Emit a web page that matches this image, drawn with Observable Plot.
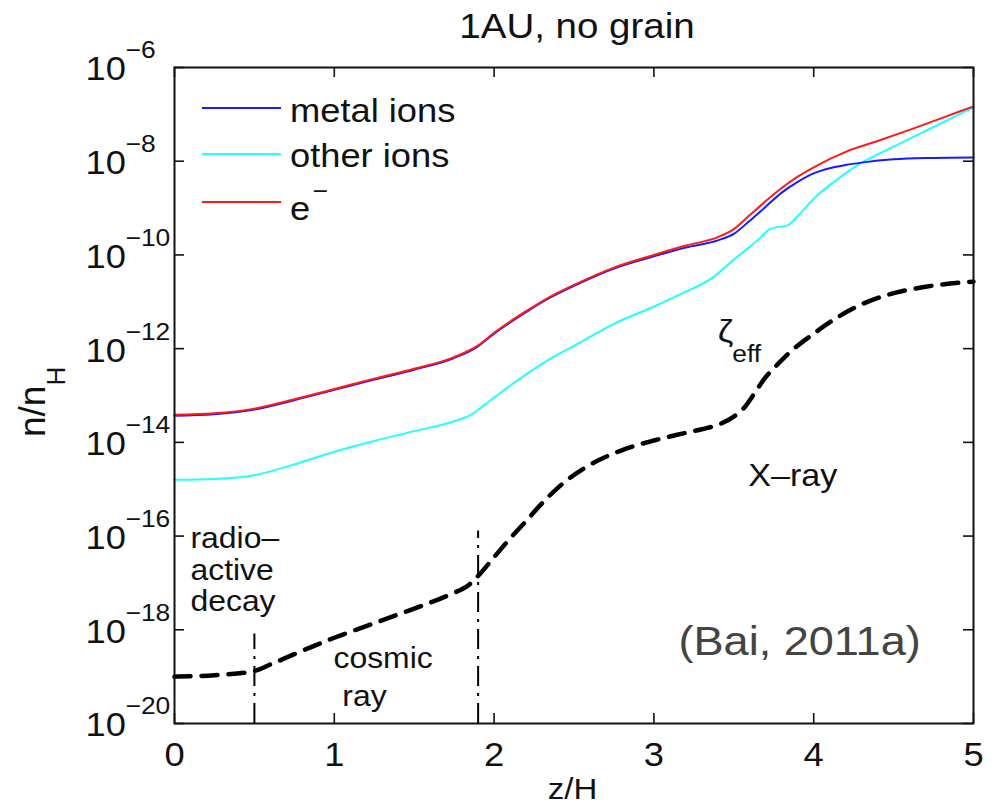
<!DOCTYPE html>
<html><head><meta charset="utf-8">
<script src="https://cdn.jsdelivr.net/npm/d3@7"></script>
<script src="https://cdn.jsdelivr.net/npm/@observablehq/plot@0.6"></script>
<style>html,body{margin:0;padding:0;background:#fff;overflow:hidden} svg{display:block}</style>
</head><body><div id="chart"></div>
<script>
// ---------- data (log10 of n/n_H) ----------
const zElectrons = [0, 0.25, 0.5, 0.75, 1.0, 1.25, 1.5, 1.75, 1.9, 2.0, 2.1, 2.2, 2.33, 2.5, 2.75, 3.0, 3.2, 3.4, 3.5, 3.6, 3.7, 3.8, 3.9, 4.0, 4.2, 4.4, 4.6, 4.8, 5.0];
const logElectrons = [-13.41, -13.38, -13.28, -13.08, -12.86, -12.64, -12.43, -12.18, -11.93, -11.66, -11.42, -11.20, -10.93, -10.64, -10.27, -10.00, -9.80, -9.62, -9.45, -9.15, -8.85, -8.57, -8.33, -8.13, -7.80, -7.57, -7.33, -7.08, -6.83];

const zMetal = [0, 0.25, 0.5, 0.75, 1.0, 1.25, 1.5, 1.75, 1.9, 2.0, 2.1, 2.2, 2.33, 2.5, 2.75, 3.0, 3.2, 3.4, 3.5, 3.6, 3.7, 3.8, 3.9, 4.0, 4.1, 4.2, 4.3, 4.5, 4.75, 5.0];
const logMetal = [-13.43, -13.40, -13.30, -13.10, -12.88, -12.66, -12.45, -12.20, -11.95, -11.68, -11.44, -11.22, -10.95, -10.66, -10.29, -10.03, -9.84, -9.69, -9.55, -9.27, -8.97, -8.67, -8.44, -8.26, -8.15, -8.08, -8.03, -7.96, -7.93, -7.92];

const zOther = [0, 0.25, 0.5, 0.75, 1.0, 1.25, 1.5, 1.75, 1.85, 1.94, 2.04, 2.2, 2.33, 2.5, 2.75, 3.0, 3.17, 3.37, 3.5, 3.58, 3.67, 3.72, 3.78, 3.83, 3.9, 4.0, 4.15, 4.29, 4.5, 4.75, 5.0];
const logOther = [-14.80, -14.78, -14.70, -14.47, -14.20, -13.97, -13.76, -13.55, -13.42, -13.20, -12.94, -12.55, -12.26, -11.94, -11.47, -11.10, -10.83, -10.48, -10.10, -9.88, -9.62, -9.46, -9.40, -9.38, -9.17, -8.80, -8.38, -8.05, -7.69, -7.27, -6.85];

const zZeta = [0, 0.25, 0.5, 0.6, 0.75, 1.0, 1.25, 1.41, 1.6, 1.73, 1.85, 1.9, 2.0, 2.1, 2.2, 2.3, 2.44, 2.6, 2.79, 3.0, 3.17, 3.3, 3.42, 3.5, 3.56, 3.63, 3.69, 3.77, 3.84, 4.0, 4.15, 4.31, 4.52, 4.7, 4.92, 5.0];
const logZeta = [-19.00, -18.97, -18.88, -18.74, -18.52, -18.17, -17.86, -17.66, -17.42, -17.24, -17.02, -16.85, -16.45, -16.05, -15.68, -15.30, -14.85, -14.48, -14.18, -13.96, -13.82, -13.72, -13.60, -13.45, -13.28, -12.95, -12.65, -12.35, -12.11, -11.68, -11.33, -11.04, -10.80, -10.68, -10.59, -10.57];

const boundaryZ = [0.5, 1.9];
const boundaryTopLog = [-18.09, -15.89];

const seriesNames = ["metal ions", "other ions", "e"];
const seriesColors = ["#1a1aff", "#22ffff", "#ff1a1a"];

const xTicks = [0, 1, 2, 3, 4, 5];
const yTickExponents = [-20, -18, -16, -14, -12, -10, -8, -6];

const titleText = "1AU, no grain";
const xLabel = "z/H";
const sourceText = "(Bai, 2011a)";

// ---------- build ----------
const rows = (zs, logs) => zs.map((z, i) => ({z, n: Math.pow(10, logs[i])}));
const electrons = rows(zElectrons, logElectrons);
const metal = rows(zMetal, logMetal);
const other = rows(zOther, logOther);
const zeta = rows(zZeta, logZeta);
const yTickValues = yTickExponents.map(e => Math.pow(10, e));
const yMin = yTickValues[0], yMax = yTickValues[yTickValues.length - 1];
const boundaries = boundaryZ.map((z, i) => ({z, lo: yMin, hi: Math.pow(10, boundaryTopLog[i])}));

const annotations = [
  {z: 0.10, n: Math.pow(10, -16.05), t: "radio–"},
  {z: 0.10, n: Math.pow(10, -16.73), t: "active"},
  {z: 0.10, n: Math.pow(10, -17.40), t: "decay"},
  {z: 0.995, n: Math.pow(10, -18.61), t: "cosmic"},
  {z: 1.05, n: Math.pow(10, -19.425), t: "ray"},
  {z: 3.59, n: Math.pow(10, -14.71), t: "X–ray"},
  {z: 3.40, n: Math.pow(10, -11.65), t: "ζ"}
];

const FONT = "'Liberation Sans', Arial, Helvetica, sans-serif";
const W = 993, H = 807, ML = 174, MR = 20, MT = 67, MB = 84;
const FW = W - ML - MR, FH = H - MT - MB, TICK = 10;
const INK = "#111";

const chart = Plot.plot({
  width: W, height: H,
  marginLeft: ML, marginRight: MR, marginTop: MT, marginBottom: MB,
  style: {fontFamily: FONT, background: "white", color: INK, overflow: "visible"},
  x: {domain: [0, 5]},
  y: {type: "log", domain: [yMin, yMax]},
  marks: [
    Plot.line(other, {x: "z", y: "n", stroke: seriesColors[1], strokeWidth: 2, curve: "monotone-x"}),
    Plot.line(metal, {x: "z", y: "n", stroke: seriesColors[0], strokeWidth: 2, curve: "monotone-x"}),
    Plot.line(electrons, {x: "z", y: "n", stroke: seriesColors[2], strokeWidth: 2, curve: "monotone-x"}),
    Plot.line(zeta, {x: "z", y: "n", stroke: "#000", strokeWidth: 4.5, strokeDasharray: "16,11", curve: "monotone-x"}),
    Plot.ruleX(boundaries, {x: "z", y1: "lo", y2: "hi", stroke: "#000", strokeWidth: 2, strokeDasharray: "20,7,3,7"}),
    // inward ticks on all four sides
    Plot.tickY(yTickValues, {y: d => d, insetRight: FW - TICK, stroke: INK, strokeWidth: 1.6}),
    Plot.tickY(yTickValues, {y: d => d, insetLeft: FW - TICK, stroke: INK, strokeWidth: 1.6}),
    Plot.tickX(xTicks, {x: d => d, insetTop: FH - TICK, stroke: INK, strokeWidth: 1.6}),
    Plot.tickX(xTicks, {x: d => d, insetBottom: FH - TICK, stroke: INK, strokeWidth: 1.6}),
    Plot.frame({stroke: INK, strokeWidth: 2}),
    // axes
    Plot.axisX(xTicks, {tickSize: 0, tickPadding: 18.6, fontSize: 33, label: null, tickFormat: d => String(d), fill: INK}),
    Plot.axisY(yTickValues, {tickSize: 0, tickPadding: 0, textAnchor: "start", dx: -89, dy: 2.4, fontSize: 33, label: null, tickFormat: () => "10", fill: INK}),
    Plot.text(yTickValues, {y: d => d, text: (d, i) => "\u2212" + Math.abs(yTickExponents[i]), frameAnchor: "left", lineAnchor: "middle", textAnchor: "start", dx: -49, dy: -16.7, fontSize: 24, fill: INK}),
    // labels
    Plot.text([titleText], {text: d => d, frameAnchor: "top", lineAnchor: "middle", dx: 3, dy: -41, fontSize: 35, fill: INK}),
    Plot.text([xLabel], {text: d => d, frameAnchor: "bottom", lineAnchor: "middle", dx: -1.5, dy: 66, fontSize: 30, fill: INK}),
    Plot.text(annotations.slice(0, 5), {x: "z", y: "n", text: "t", textAnchor: "start", fontSize: 29, fill: INK}),
    Plot.text(annotations.slice(5, 6), {x: "z", y: "n", text: "t", textAnchor: "start", fontSize: 31, fill: INK}),
    Plot.text(annotations.slice(6, 7), {x: "z", y: "n", text: "t", textAnchor: "start", fontSize: 32, fill: INK}),
    Plot.text(["eff"], {x: [3.49], y: [Math.pow(10, -12.13)], text: d => d, textAnchor: "start", fontSize: 24, fill: INK}),
    Plot.text([sourceText], {x: [3.154], y: [Math.pow(10, -18.255)], text: d => d, textAnchor: "start", fontSize: 41, fill: "#444"})
  ]
});

document.getElementById("chart").appendChild(chart);

// slight horizontal stretch of all horizontal text (as in the reference)
const SX = 1.1;
chart.querySelectorAll("text").forEach(t => {
  const tr = t.getAttribute("transform");
  if (tr) {
    if (!/rotate/.test(tr)) t.setAttribute("transform", tr + ` scale(${SX},1)`);
  } else {
    const x = +(t.getAttribute("x") || 0);
    t.setAttribute("transform", `translate(${x},0) scale(${SX},1) translate(${-x},0)`);
  }
});

// legend (no box), upper-left inside the frame
const svg = d3.select(chart);
const leg = svg.append("g").attr("font-family", FONT).attr("fill", INK).attr("text-anchor", "start");
const legY = [108, 154, 202];
const legBase = [122, 167, 220];
seriesNames.forEach((name, i) => {
  leg.append("line").attr("x1", 202).attr("x2", 281).attr("y1", legY[i]).attr("y2", legY[i])
    .attr("stroke", seriesColors[i]).attr("stroke-width", 2);
  const t = leg.append("text").attr("text-anchor", "start")
    .attr("transform", `translate(290,${legBase[i]}) scale(${SX},1)`).attr("font-size", 33).text(name);
  if (i === 2) t.append("tspan").attr("font-size", 24).attr("dy", -21).attr("dx", 2).text("\u2212");
});

// y-axis label n/n_H (rotated)
const yl = svg.append("text").attr("font-family", FONT).attr("fill", INK).attr("text-anchor", "start")
  .attr("transform", "translate(45,437) rotate(-90)").attr("font-size", 37);
yl.append("tspan").text("n/n");
yl.append("tspan").attr("font-size", 26).attr("dy", 20).text("H");
</script>
</body></html>
